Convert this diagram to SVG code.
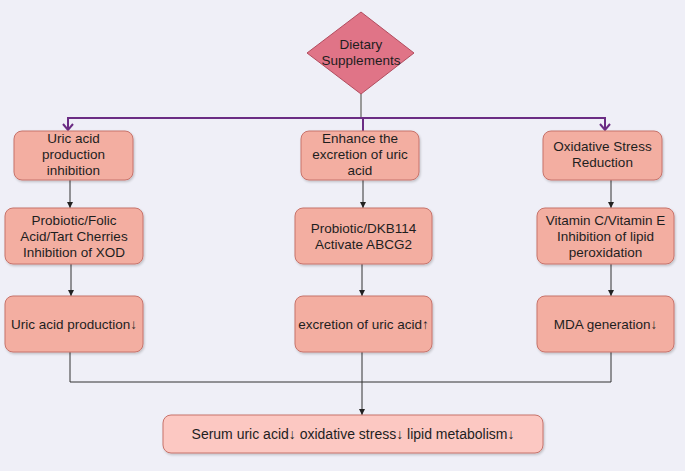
<svg xmlns="http://www.w3.org/2000/svg" width="685" height="471" viewBox="0 0 685 471">
<style>
text{font-family:"Liberation Sans",Arial,sans-serif;font-size:13.5px;fill:#1e1e1e;text-anchor:middle}
.box{fill:#f3aea1;stroke:#c7736b;stroke-width:1}
.fin{fill:#fcc8c2;stroke:#c7736b;stroke-width:1}
.ln{fill:none;stroke:#333;stroke-width:1}
.pl{fill:none;stroke:#6b2c84;stroke-width:2}
</style>
<defs>
<marker id="ah" markerWidth="8" markerHeight="8" refX="4" refY="7" markerUnits="userSpaceOnUse" viewBox="0 0 8 8"><path d="M1,1 L4,7 L7,1 Z" fill="#222"/></marker>
<marker id="ap" markerWidth="12" markerHeight="10" refX="6" refY="8" markerUnits="userSpaceOnUse" viewBox="0 0 12 10"><path d="M1,2 L6,8 L11,2" fill="none" stroke="#6b2c84" stroke-width="2"/></marker>
<filter id="sh" x="-10%" y="-10%" width="120%" height="130%"><feDropShadow dx="1" dy="1.5" stdDeviation="1" flood-color="#000" flood-opacity="0.2"/></filter>
</defs>
<rect width="685" height="471" fill="#efeff7"/>
<g id="connectors">
<line x1="361" y1="94" x2="361" y2="118" stroke="#999" stroke-width="2"/>
<path class="pl" d="M361,118 H68 V130" marker-end="url(#ap)"/>
<path class="pl" d="M361,118 H605 V130" marker-end="url(#ap)"/>
<line class="pl" x1="363" y1="118" x2="363" y2="131"/>
<line class="ln" x1="70" y1="180" x2="70" y2="208" marker-end="url(#ah)"/>
<line class="ln" x1="363" y1="180" x2="363" y2="208" marker-end="url(#ah)"/>
<line class="ln" x1="611" y1="180" x2="611" y2="208" marker-end="url(#ah)"/>
<line class="ln" x1="71" y1="264" x2="71" y2="296" marker-end="url(#ah)"/>
<line class="ln" x1="362" y1="264" x2="362" y2="296" marker-end="url(#ah)"/>
<line class="ln" x1="611" y1="264" x2="611" y2="296" marker-end="url(#ah)"/>
<path class="ln" d="M70,352 V382 H611 V352" stroke="#555"/>
<line class="ln" x1="362" y1="352" x2="362" y2="415" marker-end="url(#ah)"/>
</g>
<g id="diamond">
<polygon points="361,12 414,53 361,94 307,53" fill="#e07487" stroke="#b24c5e" stroke-width="1"/>
<text x="361" y="49">Dietary</text>
<text x="361" y="65">Supplements</text>
</g>
<g id="n1"><rect class="box" filter="url(#sh)" x="14" y="131" width="119" height="49" rx="8"/>
<text x="73.5" y="143">Uric acid</text><text x="73.5" y="159">production</text><text x="73.5" y="175">inhibition</text></g>
<g id="n2"><rect class="box" filter="url(#sh)" x="301" y="131" width="118" height="49" rx="8"/>
<text x="360" y="143">Enhance the</text><text x="360" y="159">excretion of uric</text><text x="360" y="175">acid</text></g>
<g id="n3"><rect class="box" filter="url(#sh)" x="543" y="131" width="119" height="49" rx="8"/>
<text x="602.5" y="151">Oxidative Stress</text><text x="602.5" y="167">Reduction</text></g>
<g id="n4"><rect class="box" filter="url(#sh)" x="5" y="208" width="138" height="56" rx="8"/>
<text x="74" y="225">Probiotic/Folic</text><text x="74" y="241">Acid/Tart Cherries</text><text x="74" y="257">Inhibition of XOD</text></g>
<g id="n5"><rect class="box" filter="url(#sh)" x="295" y="208" width="137" height="56" rx="8"/>
<text x="363.5" y="233">Probiotic/DKB114</text><text x="363.5" y="249">Activate ABCG2</text></g>
<g id="n6"><rect class="box" filter="url(#sh)" x="537" y="208" width="137" height="56" rx="8"/>
<text x="605.5" y="225">Vitamin C/Vitamin E</text><text x="605.5" y="241">Inhibition of lipid</text><text x="605.5" y="257">peroxidation</text></g>
<g id="n7"><rect class="box" filter="url(#sh)" x="5" y="296" width="138" height="56" rx="8"/>
<text x="74" y="329">Uric acid production↓</text></g>
<g id="n8"><rect class="box" filter="url(#sh)" x="295" y="296" width="137" height="56" rx="8"/>
<text x="363.5" y="329">excretion of uric acid↑</text></g>
<g id="n9"><rect class="box" filter="url(#sh)" x="537" y="296" width="137" height="56" rx="8"/>
<text x="605.5" y="329">MDA generation↓</text></g>
<g id="final"><rect class="fin" filter="url(#sh)" x="163" y="415" width="380" height="38" rx="8"/>
<text x="353" y="439" style="font-size:14px">Serum uric acid↓ oxidative stress↓ lipid metabolism↓</text></g>
</svg>
